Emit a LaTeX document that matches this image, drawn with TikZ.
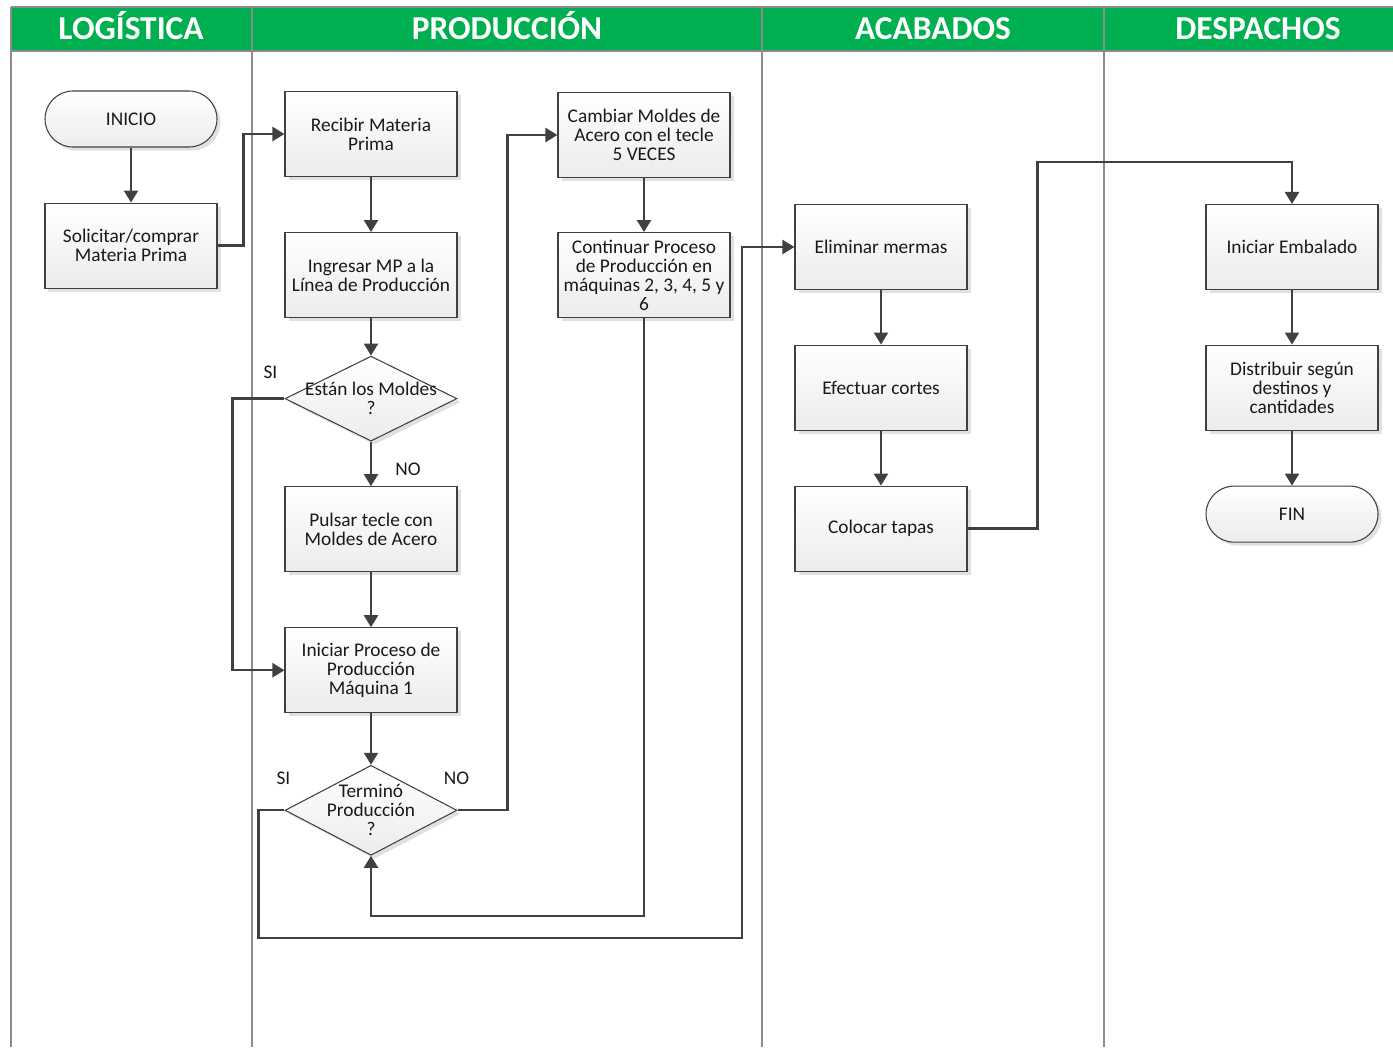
\documentclass[tikz,border=0pt]{standalone}
\usepackage{fontspec}
\setmainfont{Carlito}
\usetikzlibrary{arrows.meta,positioning,shapes.geometric,shadows,calc}
\definecolor{lanegreen}{RGB}{0,176,80}
\definecolor{inkgray}{RGB}{64,64,64}
\definecolor{lanegray}{RGB}{140,140,140}

\begin{document}
\begin{tikzpicture}[
  x=0.2mm, y=-0.2mm,
  font=\fontsize{11}{10.8}\selectfont,
  node distance=11mm,
  box/.style={draw=inkgray, line width=0.6pt, top color=white, bottom color=gray!15,
    text=black!90, minimum width=34.4mm, minimum height=17mm, align=center, inner sep=1pt,
    drop shadow={shadow xshift=0.7mm, shadow yshift=-0.7mm, fill=gray!40, opacity=0.6}},
  term/.style={box, rounded corners=5.6mm, minimum height=11.2mm},
  dec/.style={box, diamond, aspect=2, minimum width=34.4mm, minimum height=17mm},
  head/.style={text=white, anchor=base, font=\fontsize{19}{20}\selectfont\bfseries},
  lbl/.style={text=black!90},
  arr/.style={-{Triangle[length=2.4mm,width=2.8mm]}, line width=1.3pt, draw=inkgray}
]
\useasboundingbox (0,0) rectangle (1393,1047);

% lanes
\fill[lanegreen] (11,7) rectangle (1393,51);
\draw[lanegray, line width=0.6pt] (11,7) -- (1393,7);
\draw[lanegray, line width=0.6pt] (11,51) -- (1393,51);
\foreach \x in {11,252,762,1104}
  \draw[lanegray, line width=0.9pt] (\x,7) -- (\x,1047);
\node[head] (hlog) at (131,39) {LOGÍSTICA};
\node[head] (hpro) at (507,39) {PRODUCCIÓN};
\node[head] (haca) at (933,39) {ACABADOS};
\node[head] (hdes) at (1258,39) {DESPACHOS};

% logistica
\node[term] (ini0) at (131,119) {INICIO};
\node[box,below=of ini0] (sol) {Solicitar/comprar\\Materia Prima};

% produccion
\node[box] (rec) at (371,134) {Recibir Materia\\Prima};
\node[box,below=of rec] (ing) {Ingresar MP a la\\Línea de Producción};
\node[dec,below=7.5mm of ing,label={[lbl,align=center]center:Están los Moldes\\?}] (d1) {};
\node[box,below=8.9mm of d1] (pul) {Pulsar tecle con\\Moldes de Acero};
\node[box,below=of pul] (ini) {Iniciar Proceso de\\Producción\\Máquina 1};
\node[dec,minimum height=18mm,below=10.3mm of ini,label={[lbl,align=center]center:Terminó\\Producción\\?}] (d2) {};
\node[box] (cam) at (644,135) {Cambiar Moldes de\\Acero con el tecle\\5 VECES};
\node[box,below=10.8mm of cam] (con) {Continuar Proceso\\de Producción en\\máquinas 2, 3, 4, 5 y\\6};

% acabados
\node[box] (eli) at (881,247) {Eliminar mermas};
\node[box,below=10.9mm of eli] (efe) {Efectuar cortes};
\node[box,below=of efe] (col) {Colocar tapas};

% despachos
\node[box] (emb) at (1292,247) {Iniciar Embalado};
\node[box,below=10.9mm of emb] (dis) {Distribuir según\\destinos y\\cantidades};
\node[term,below=of dis] (fin) {FIN};

% SI / NO
\node[lbl] (si1) at ($(d1.west)+(-14,-26)$) {SI};
\node[lbl] (no1) at ($(d1.south)+(37,28)$) {NO};
\node[lbl] (si2) at ($(d2.west)+(-1,-32)$) {SI};
\node[lbl] (no2) at ($(d2.east)+(-1,-32)$) {NO};

% flujo
\draw[arr] (ini0) -- (sol);
\draw[arr] (sol.east) -- ++(26,0) |- (rec.west);
\draw[arr] (rec) -- (ing);
\draw[arr] (ing) -- (d1);
\draw[arr] (d1) -- (pul);
\draw[arr] (d1.west) -- ++(-52,0) |- (ini.west);
\draw[arr] (pul) -- (ini);
\draw[arr] (ini) -- (d2);
\draw[arr] (d2.east) -- ++(50,0) |- (cam.west);
\draw[arr] (cam) -- (con);
\draw[arr] (con.south) -- ++(0,598) -| (d2.south);
\coordinate (ret) at (742,938);
\draw[arr] (d2.west) -- ++(-26,0) |- (ret) |- (eli.west);
\draw[arr] (eli) -- (efe);
\draw[arr] (efe) -- (col);
\draw[arr] (col.east) -- ++(70,0) |- ($(emb.north)+(0,-42)$) -- (emb.north);
\draw[arr] (emb) -- (dis);
\draw[arr] (dis) -- (fin);
\end{tikzpicture}
\end{document}
